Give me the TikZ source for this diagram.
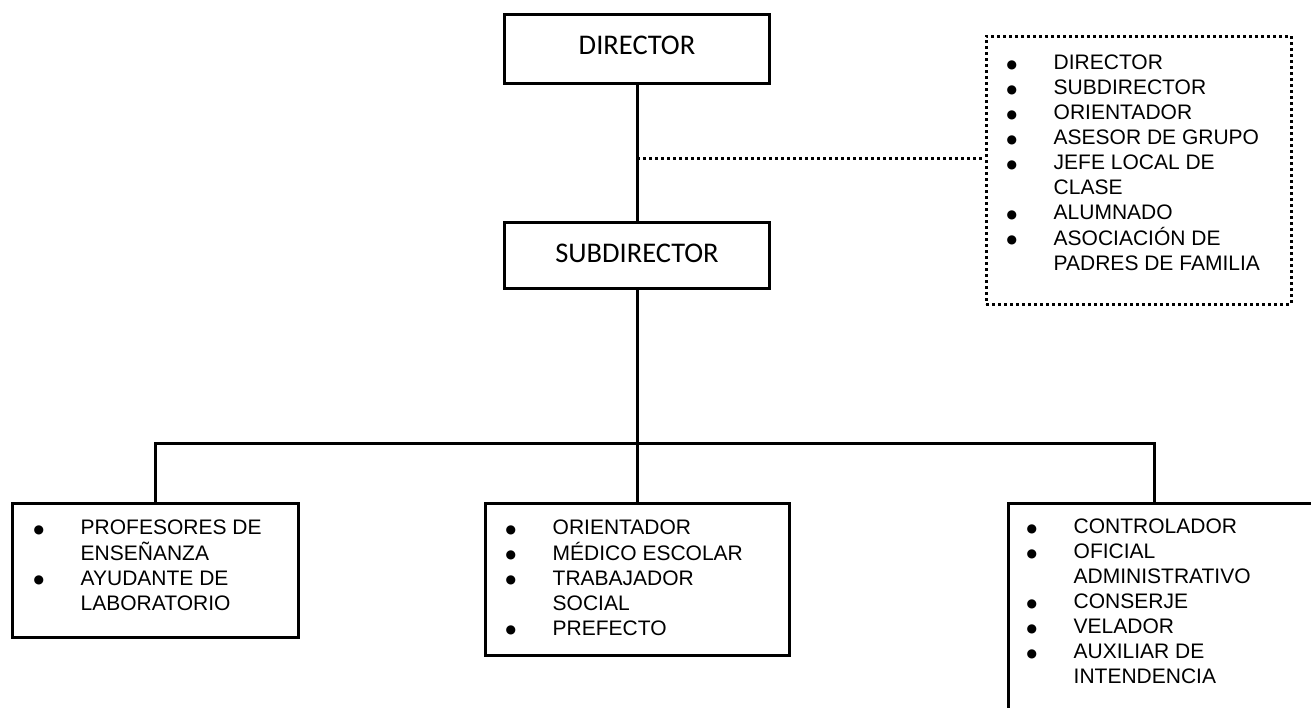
\documentclass[tikz,border=0pt]{standalone}
\usepackage{fontspec}
\setmainfont{Liberation Sans}
\newfontfamily\cargofont{Carlito}
\newfontfamily\puntofont{DejaVu Sans}
\usetikzlibrary{positioning}

\newcommand{\punto}{\raisebox{1.5pt}{\puntofont\fontsize{12}{25}\selectfont ●}}
\newcommand{\listado}[1]{\begin{tabular}[t]{@{}p{47pt}@{}l@{}}#1\end{tabular}}

\begin{document}
\begin{tikzpicture}[x=1pt, y=-1pt,
    caja/.style={draw, line width=3pt, inner sep=0pt, anchor=north west},
    cargo/.style={caja, minimum width=265pt, font=\cargofont\fontsize{28.5}{34}\selectfont},
    punteado/.style={line width=3pt, dash pattern=on 3pt off 3pt},
    lista/.style={anchor=base west, inner sep=0pt, font=\fontsize{21}{25}\selectfont}]

    \clip (0,0) rectangle (1311,707);

    % mando
    \node[cargo, minimum height=69pt] (director) at (503,13) {\raisebox{8pt}{DIRECTOR}};
    \node[cargo, minimum height=66pt] (subdirector) at (503,221) {\raisebox{4pt}{SUBDIRECTOR}};

    % consejo
    \node[caja, punteado, minimum width=305pt, minimum height=268pt] (consejo) at (984.5,34.5) {};
    \node[lista] (lconsejo) at ([xshift=22pt, yshift=-35pt]consejo.north west) {\listado{
        \punto & DIRECTOR\\
        \punto & SUBDIRECTOR\\
        \punto & ORIENTADOR\\
        \punto & ASESOR DE GRUPO\\
        \punto & JEFE LOCAL DE\\
               & CLASE\\
        \punto & ALUMNADO\\
        \punto & ASOCIACIÓN DE\\
               & PADRES DE FAMILIA}};

    % areas
    \node[caja, minimum width=286pt, minimum height=134pt] (docencia) at (10.5,501.5) {};
    \node[caja, minimum width=304pt, minimum height=152pt] (apoyo) at (483.5,501.5) {};
    \node[caja, minimum width=330pt, minimum height=240pt] (admin) at (1006.5,501.5) {};

    \node[lista] (ldocencia) at ([xshift=23pt, yshift=-33pt]docencia.north west) {\listado{
        \punto & PROFESORES DE\\
               & ENSEÑANZA\\
        \punto & AYUDANTE DE\\
               & LABORATORIO}};
    \node[lista] (lapoyo) at ([xshift=22pt, yshift=-33pt]apoyo.north west) {\listado{
        \punto & ORIENTADOR\\
        \punto & MÉDICO ESCOLAR\\
        \punto & TRABAJADOR\\
               & SOCIAL\\
        \punto & PREFECTO}};
    \node[lista] (ladmin) at ([xshift=20pt, yshift=-32pt]admin.north west) {\listado{
        \punto & CONTROLADOR\\
        \punto & OFICIAL\\
               & ADMINISTRATIVO\\
        \punto & CONSERJE\\
        \punto & VELADOR\\
        \punto & AUXILIAR DE\\
               & INTENDENCIA}};

    % lineas
    \coordinate (enlace) at (director.south |- 0,158);
    \coordinate (bus) at (subdirector.south |- 0,443);
    \coordinate (busizq) at (155,443);
    \coordinate (busder) at (1154,443);
    \draw[line width=3pt] (director) -- (subdirector);
    \draw[line width=3pt] (subdirector) -- (bus);
    \draw[line width=3pt] (busizq |- docencia.north) -- (busizq) -- (busder) -- (busder |- admin.north);
    \draw[line width=3pt] (bus) -- (bus |- apoyo.north);
    \draw[punteado] (enlace) -- (enlace -| consejo.west);
\end{tikzpicture}
\end{document}
